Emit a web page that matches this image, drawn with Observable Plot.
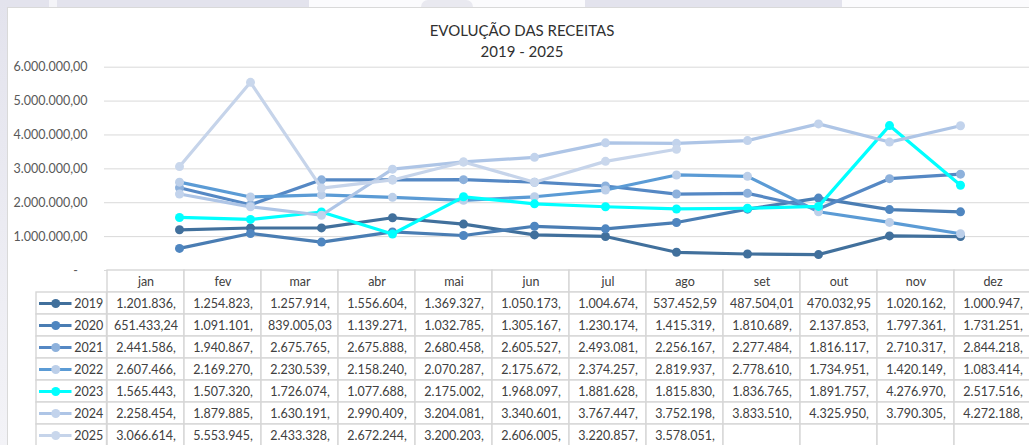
<!DOCTYPE html>
<html>
<head>
<meta charset="utf-8">
<script src="https://cdn.jsdelivr.net/npm/d3@7"></script>
<script src="https://cdn.jsdelivr.net/npm/@observablehq/plot@0.6"></script>
<style>
  html, body { margin: 0; padding: 0; width: 1029px; height: 445px; overflow: hidden; background: #fff; font-family: Lato, "Open Sans", sans-serif; }
  .abs { position: absolute; }
  #stripTop { left: 0; top: 0; width: 1029px; height: 7px; background: #e3e3ed; }
  #stripLeft { left: 0; top: 0; width: 7px; height: 445px; background: linear-gradient(#e3e3ed, #f3f3f7); }
  #frame { left: 7px; top: 7px; width: 1060px; height: 470px; border: 1px solid #d9d9d9; background: #fff; }
  .title { left: 372px; width: 300px; text-align: center; font-size: 15px; line-height: 18px; color: #303030; white-space: nowrap; }
  #chart, #table { position: absolute; left: 0; top: 0; }
</style>
</head>
<body>
<div class="abs" id="stripTop"></div>
<div class="abs" style="left:309px;top:0;width:276px;height:7px;background:#fbfbfd"></div>
<div class="abs" style="left:421px;top:0;width:52px;height:7px;background:#e9e9f0;border-radius:26px 26px 0 0"></div>
<div class="abs" style="left:842px;top:0;width:187px;height:7px;background:#fbfbfd"></div>
<div class="abs" style="left:49px;top:0;width:8px;height:7px;background:#f4f4f8"></div>
<div class="abs" id="stripLeft"></div>
<div class="abs" id="frame"></div>
<div class="abs title" style="top:21px">EVOLUÇÃO DAS RECEITAS</div>
<div class="abs title" style="top:42px">2019 - 2025</div>
<div id="chart"></div>
<div id="table"></div>
<script>
// ---- data ----
const months = ["jan","fev","mar","abr","mai","jun","jul","ago","set","out","nov","dez"];
const years = ["2019","2020","2021","2022","2023","2024","2025"];
const v2019 = [1201836, 1254823, 1257914, 1556604, 1369327, 1050173, 1004674, 537452.59, 487504.01, 470032.95, 1020162, 1000947];
const v2020 = [651433.24, 1091101, 839005.03, 1139271, 1032785, 1305167, 1230174, 1415319, 1810689, 2137853, 1797361, 1731251];
const v2021 = [2441586, 1940867, 2675765, 2675888, 2680458, 2605527, 2493081, 2256167, 2277484, 1816117, 2710317, 2844218];
const v2022 = [2607466, 2169270, 2230539, 2158240, 2070287, 2175672, 2374257, 2819937, 2778610, 1734951, 1420149, 1083414];
const v2023 = [1565443, 1507320, 1726074, 1077688, 2175002, 1968097, 1881628, 1815830, 1836765, 1891757, 4276970, 2517516];
const v2024 = [2258454, 1879885, 1630191, 2990409, 3204081, 3340601, 3767447, 3752198, 3833510, 4325950, 3790305, 4272188];
const v2025 = [3066614, 5553945, 2433328, 2672244, 3200203, 2606005, 3220857, 3578051];
const yTicks = [0, 1000000, 2000000, 3000000, 4000000, 5000000, 6000000];
const lineColors = ["#41709c", "#4a7db3", "#5588c4", "#5b9bd5", "#00ffff", "#aec5e6", "#c6d4ea"];
const markerColors = ["#41709c", "#4f86c0", "#8db1dc", "#bccfe9", "#00ffff", "#c2d3ec", "#c9d7ec"];

const series = [v2019, v2020, v2021, v2022, v2023, v2024, v2025];

const br = d3.formatLocale({decimal: ",", thousands: ".", grouping: [3], currency: ["R$ ", ""]});
const f2 = br.format(",.2f");
const axisFmt = d => d === 0 ? "-\u00a0\u00a0\u00a0" : f2(d);

// ---- chart ----
const chartMarks = [
  Plot.gridY(yTicks, {stroke: "#d9d9d9", strokeOpacity: 1, strokeWidth: 1}),
  Plot.axisY(yTicks, {tickSize: 0, tickPadding: 17, tickFormat: axisFmt, label: null, fill: "#595959"})
];
years.forEach((yr, i) => {
  const data = series[i].map((v, j) => ({year: yr, month: months[j], value: v}));
  chartMarks.push(Plot.line(data, {x: "month", y: "value", stroke: "year", strokeWidth: 3.2}));
  chartMarks.push(Plot.dot(data, {x: "month", y: "value", fill: markerColors[i], r: 4.5}));
});

const chart = Plot.plot({
  width: 1029, height: 445,
  marginLeft: 104, marginRight: 0, marginTop: 66.7, marginBottom: 175,
  style: {background: "transparent", fontFamily: "Lato, 'Open Sans', sans-serif", fontSize: "12.5px"},
  x: {type: "point", domain: months, range: [142.75, 995.25], axis: null},
  y: {domain: [0, 6000000], range: [270, 66.7], axis: null},
  color: {type: "ordinal", domain: years, range: lineColors},
  marks: chartMarks
});
document.getElementById("chart").appendChild(chart);

// ---- data table ----
const rowKeys = ["head", ...years];
const headCells = months.map(m => ({month: m, row: "head", label: m}));
const dataCells = [];
years.forEach((yr, i) => {
  months.forEach((m, j) => {
    const v = series[i][j];
    dataCells.push({month: m, row: yr, label: v === undefined ? "" : f2(v).slice(0, 10)});
  });
});
const legendRows = years.map((yr, i) => ({row: yr, month: "jan", line: lineColors[i], marker: markerColors[i]}));

const table = Plot.plot({
  width: 1029, height: 445,
  marginLeft: 0, marginRight: 0, marginTop: 270, marginBottom: 0,
  style: {background: "transparent", fontFamily: "Lato, 'Open Sans', sans-serif", fontSize: "12.5px"},
  x: {type: "band", domain: months, range: [104, 1034], padding: 0, axis: null},
  y: {type: "band", domain: rowKeys, range: [270, 446.8], padding: 0, axis: null},
  marks: [
    Plot.cell([...headCells, ...dataCells], {x: "month", y: "row", fill: "white", stroke: "#d6d6d6", strokeWidth: 1.4}),
    Plot.cell(legendRows, {x: "month", y: "row", dx: -77.5, insetLeft: 6.5, fill: "white", stroke: "#d6d6d6", strokeWidth: 1.4}),
    Plot.text([...headCells, ...dataCells], {x: "month", y: "row", text: "label", fill: "#404040"}),
    Plot.tickY(legendRows, {x: "month", y: "row", dx: -68, insetRight: 44.5, stroke: d => d.line, strokeWidth: 3.2}),
    Plot.dot(legendRows, {x: "month", y: "row", dx: -90.25, r: 4.5, fill: d => d.marker}),
    Plot.text(legendRows, {x: "month", y: "row", dx: -71.75, textAnchor: "start", text: "row", fill: "#404040"})
  ]
});
document.getElementById("table").appendChild(table);
</script>
</body>
</html>
